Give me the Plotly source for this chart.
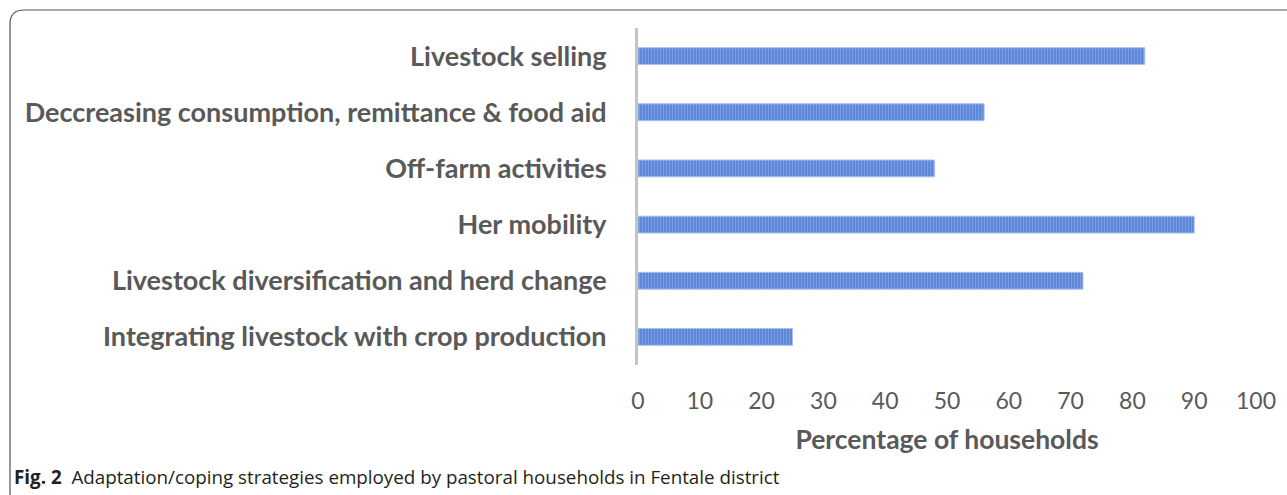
import plotly.graph_objects as go

categories = [
    "Livestock selling",
    "Deccreasing consumption, remittance & food aid",
    "Off-farm activities",
    "Her mobility",
    "Livestock diversification and herd change",
    "Integrating livestock with crop production",
]
values = [82, 56, 48, 90, 72, 25]
x_ticks = [0, 10, 20, 30, 40, 50, 60, 70, 80, 90, 100]

W, H = 1287, 495
L, R, T, B = 638, 31, 28, 130
pw = W - L - R
ph = H - T - B

def px(x):
    return (x - L) / pw

def py(y):
    return (H - B - y) / ph

fig = go.Figure(go.Bar(
    x=values, y=categories, orientation="h",
    marker=dict(
        color="#5f88d8",
        line=dict(color="#a8c0ee", width=1),
        pattern=dict(shape="|", size=3, solidity=0.35, fgcolor="#92b2ec", bgcolor="#5f88d8"),
    ),
    hoverinfo="x+y",
))

# rounded frame
r = 14
x0, y0, x1, y1 = 10, 10, 1310, 520
path = (f"M {px(x0)},{py(y1)} L {px(x0)},{py(y0 + r)} "
        f"Q {px(x0)},{py(y0)} {px(x0 + r)},{py(y0)} "
        f"L {px(x1)},{py(y0)}")
fig.add_shape(type="path", path=path, xref="paper", yref="paper",
              line=dict(color="#555555", width=1.2))

fig.add_annotation(
    text="<b>Fig. 2</b>  Adaptation/coping strategies employed by pastoral households in Fentale district",
    xref="paper", yref="paper", x=px(12), y=py(477), xanchor="left", yanchor="middle",
    showarrow=False, font=dict(family="Open Sans", size=18.8, color="#231f20"),
)

fig.update_layout(
    width=W, height=H,
    margin=dict(l=L, r=R, t=T, b=B),
    plot_bgcolor="white", paper_bgcolor="white",
    bargap=0.7, showlegend=False,
    font=dict(family="Lato", color="#595959"),
)
fig.update_xaxes(
    range=[0, 100], tickvals=x_ticks, showgrid=False, zeroline=False, showline=False,
    tickfont=dict(family="Lato", size=23, color="#595959"),
    ticklabelstandoff=20,
    title=dict(text="<b>Percentage of households</b>", font=dict(family="Lato", size=26.5, color="#595959"), standoff=17),
)
fig.update_yaxes(
    autorange="reversed", showgrid=False, zeroline=False,
    showline=True, linecolor="#c4c4c4", linewidth=3,
    ticks="", ticklabelstandoff=23,
    tickfont=dict(family="Lato", size=27, color="#595959", weight="bold"),
)

fig.write_html("out.html")
